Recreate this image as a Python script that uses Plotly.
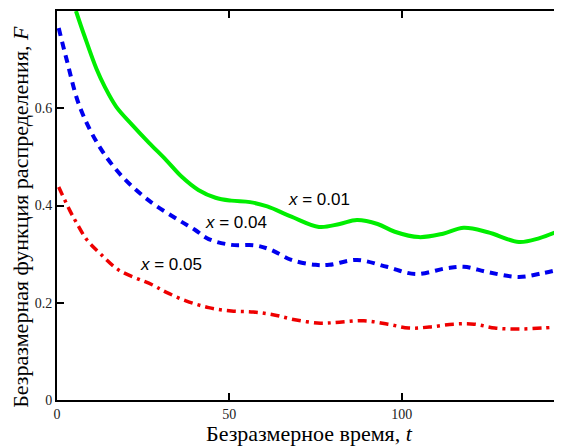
import plotly.graph_objects as go

# Data
t_green = [5.5, 8, 11.5, 13.8, 17.2, 21.8, 26.7, 31.6, 36.2, 41, 46, 50.6, 56, 61, 68, 76, 82, 87, 93, 98, 105, 112, 118, 125, 134, 140, 145]
F_green = [0.80, 0.748, 0.68, 0.645, 0.603, 0.566, 0.529, 0.494, 0.459, 0.432, 0.416, 0.41, 0.407, 0.398, 0.377, 0.356, 0.362, 0.37, 0.362, 0.346, 0.335, 0.342, 0.354, 0.345, 0.325, 0.333, 0.346]

t_blue = [0.5, 2.8, 6.6, 12.4, 19, 26.7, 35.3, 40, 44, 50.6, 57.5, 62, 68, 75, 79, 87, 95.7, 104, 113, 118, 125, 134, 141, 145]
F_blue = [0.765, 0.70, 0.603, 0.52, 0.459, 0.41, 0.37, 0.35, 0.331, 0.319, 0.318, 0.309, 0.288, 0.278, 0.278, 0.288, 0.274, 0.259, 0.271, 0.274, 0.263, 0.253, 0.261, 0.267]

t_red = [0.5, 3.7, 5.7, 8.6, 12.4, 18, 27.6, 31.6, 37.4, 44, 50.6, 57, 63, 69, 76.4, 82, 89, 96, 102, 108, 115, 121, 127, 134, 141, 145]
F_red = [0.438, 0.39, 0.364, 0.33, 0.302, 0.267, 0.237, 0.222, 0.204, 0.19, 0.183, 0.181, 0.175, 0.165, 0.158, 0.16, 0.163, 0.156, 0.148, 0.15, 0.156, 0.156, 0.148, 0.146, 0.148, 0.15]

x_ticks = [0, 50, 100]
x_ticklabels = ["0", "50", "100"]
y_ticks = [0, 0.2, 0.4, 0.6, 0.8]
y_ticklabels = ["0", "0.2", "0.4", "0.6", "0.8"]

labels = ["<i>x</i> = 0.01", "<i>x</i> = 0.04", "<i>x</i> = 0.05"]
label_t = [76, 52, 33]
label_F = [0.4115, 0.366, 0.278]

x_title = "Безразмерное время, <i>t</i>"
y_title = "Безразмерная функция распределения, <i>F</i>"

SERIF = "'Times New Roman', 'Liberation Serif', 'DejaVu Serif', serif"

fig = go.Figure()
fig.add_trace(go.Scatter(x=t_green, y=F_green, mode="lines", line=dict(color="#00ee00", width=4, shape="spline", smoothing=1), showlegend=False))
fig.add_trace(go.Scatter(x=t_blue, y=F_blue, mode="lines", line=dict(color="#0000ee", width=4, dash="8px,6px", shape="spline", smoothing=1), showlegend=False))
fig.add_trace(go.Scatter(x=t_red, y=F_red, mode="lines", line=dict(color="#ee0000", width=3.5, dash="9px,5px,3px,5px", shape="spline", smoothing=1), showlegend=False))

for txt, tx, fy in zip(labels, label_t, label_F):
    fig.add_annotation(x=tx, y=fy, text=txt, showarrow=False,
                       font=dict(family="Liberation Sans", size=17, color="black"))

fig.add_annotation(xref="paper", yref="paper", x=0.5, y=-0.05, yanchor="top", text=x_title,
                   showarrow=False, font=dict(family=SERIF, size=22, color="black"))
fig.add_annotation(xref="paper", yref="paper", x=-0.072, y=0.47, xanchor="center", yanchor="middle",
                   text=y_title, textangle=-90, showarrow=False,
                   font=dict(family=SERIF, size=22, color="black"))

# page body has an 8px margin, so the figure is offset by 8px
fig.update_layout(
    width=554, height=440,
    margin=dict(l=49, r=0, t=3, b=48, autoexpand=False),
    paper_bgcolor="white", plot_bgcolor="white",
    font=dict(family=SERIF, color="black"),
)
fig.update_xaxes(
    range=[0, 146.5], tickvals=x_ticks, ticktext=x_ticklabels, automargin=False,
    ticks="inside", ticklen=7, tickwidth=1.5, tickcolor="black",
    showline=True, linecolor="black", linewidth=2, mirror="ticks",
    showgrid=False, zeroline=False,
    tickfont=dict(family=SERIF, size=14, color="#222"),
)
fig.update_yaxes(
    range=[0, 0.8], tickvals=y_ticks, ticktext=y_ticklabels, automargin=False,
    ticks="inside", ticklen=7, tickwidth=1.5, tickcolor="black",
    showline=True, linecolor="black", linewidth=2, mirror=False,
    showgrid=False, zeroline=False,
    tickfont=dict(family=SERIF, size=14, color="#222"),
)

fig.write_html("out.html")
